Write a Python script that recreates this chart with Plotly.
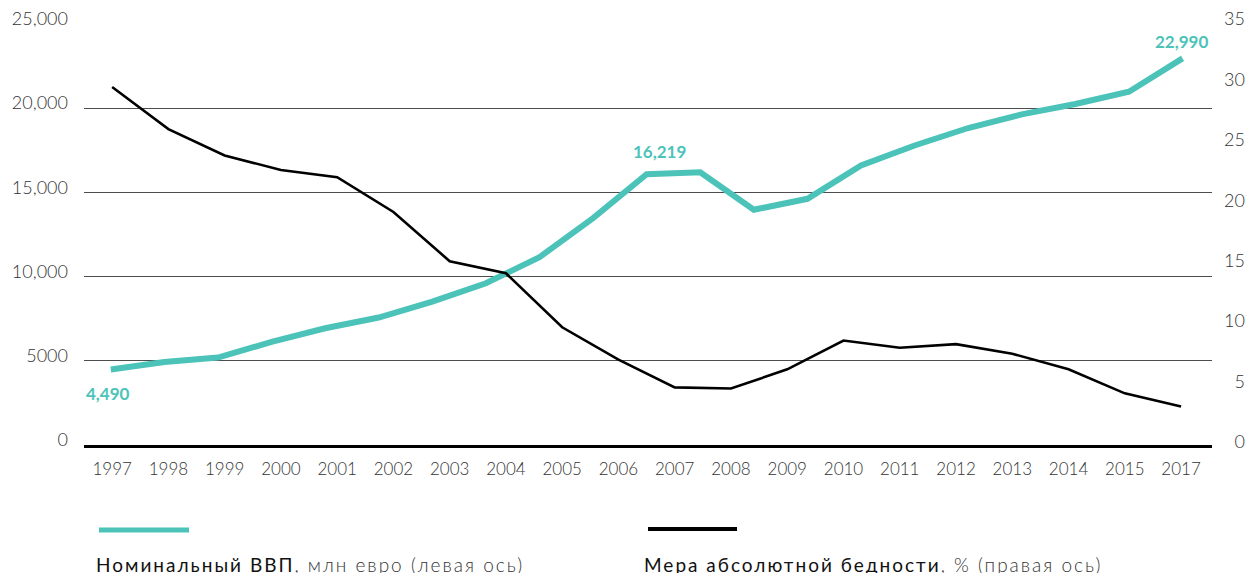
import plotly.graph_objects as go

# ---------------- data ----------------
gdp_years = list(range(1997, 2018))
gdp_values = [4490, 4940, 5200, 6130, 6940, 7580, 8530, 9620, 11170, 13490,
              16100, 16219, 13990, 14640, 16620, 17810, 18850, 19660, 20280,
              21010, 22990]

poverty_labels = ["1997", "1998", "1999", "2000", "2001", "2002", "2003", "2004",
                  "2005", "2006", "2007", "2008", "2009", "2010", "2011", "2012",
                  "2013", "2014", "2015", "2017"]
poverty_values = [29.8, 26.3, 24.1, 22.9, 22.3, 19.4, 15.3, 14.3, 9.8, 7.1,
                  4.8, 4.7, 6.3, 8.7, 8.1, 8.4, 7.6, 6.3, 4.3, 3.2]

left_ticks = [0, 5000, 10000, 15000, 20000, 25000]
left_tick_text = ["0", "5000", "10,000", "15,000", "20,000", "25,000"]
right_ticks = [0, 5, 10, 15, 20, 25, 30, 35]

gdp_name = "Номинальный ВВП"
gdp_unit = ", млн евро (левая ось)"
pov_name = "Мера абсолютной бедности"
pov_unit = ", % (правая ось)"

TEAL = "#4cc3b9"
FONT = "Lato, 'Open Sans', sans-serif"

# layout geometry (pixels)
L, T, B = 84, 10, 128
PAPER_W, PAPER_H = 1245 - L, 573 - T - B
PLOT_W, PLOT_H = 1128, 420.5

fig = go.Figure()

fig.add_trace(go.Scatter(
    x=poverty_labels, y=poverty_values, xaxis="x2", yaxis="y2",
    mode="lines", line=dict(color="#000000", width=2.6),
    hoverinfo="skip", showlegend=False))

fig.add_trace(go.Scatter(
    x=gdp_years, y=gdp_values, xaxis="x", yaxis="y",
    mode="lines", line=dict(color=TEAL, width=6),
    hoverinfo="skip", showlegend=False))

# invisible traces so the label-only axes are drawn
fig.add_trace(go.Scatter(x=[gdp_years[0]], y=[left_ticks[1]], xaxis="x", yaxis="y3",
                         mode="none", hoverinfo="skip", showlegend=False))
fig.add_trace(go.Scatter(x=[gdp_years[0]], y=[right_ticks[1]], xaxis="x", yaxis="y4",
                         mode="none", hoverinfo="skip", showlegend=False))

dom_x = PLOT_W / PAPER_W
dom_y = PLOT_H / PAPER_H
tick_font = dict(size=18, color="#333333", family=FONT, weight=300)

# label axes span the whole paper height; ranges place each label a few px above its line
lab_scale_l = PLOT_H / 25000
lab_l = [-5.5 / lab_scale_l, 25000 + (PAPER_H - PLOT_H - 5.5) / lab_scale_l]
lab_scale_r = 423 / 35
lab_r = [-3 / lab_scale_r, 35 + (PAPER_H - 423 - 3) / lab_scale_r]

fig.update_layout(
    width=1245, height=573,
    margin=dict(l=L, r=0, t=T, b=B, pad=0),
    paper_bgcolor="white", plot_bgcolor="rgba(0,0,0,0)",
    font=dict(family=FONT, color="#333333"),
    showlegend=False,
    xaxis=dict(domain=[0, dom_x], range=[1996.5, 2017.55], showticklabels=False,
               showgrid=False, zeroline=False, showline=True, linecolor="#000000",
               linewidth=3, ticks="", anchor="y", fixedrange=True),
    xaxis2=dict(type="category", categoryorder="array", categoryarray=poverty_labels,
                overlaying="x", anchor="y", side="bottom", domain=[0, dom_x],
                range=[-0.5, 19.55], showgrid=False, zeroline=False, showline=False,
                ticks="", tickfont=dict(size=17, color="#333333", family=FONT, weight=300),
                ticklabelstandoff=12, fixedrange=True),
    yaxis=dict(domain=[0, dom_y], range=[0, 25005], tickvals=left_ticks,
               showticklabels=False, showgrid=True, gridcolor="#4d4d4d", gridwidth=1,
               zeroline=False, showline=False, ticks="", fixedrange=True),
    yaxis2=dict(range=[0, 35 * 25005 / 25000], overlaying="y", anchor="x", side="right",
                showticklabels=False, showgrid=False, zeroline=False,
                showline=False, ticks="", fixedrange=True),
    yaxis3=dict(domain=[0, 1], range=lab_l, tickvals=left_ticks, ticktext=left_tick_text,
                anchor="x", side="left", showgrid=False,
                zeroline=False, showline=False, ticks="", ticklabelstandoff=15,
                tickfont=tick_font, fixedrange=True),
    yaxis4=dict(domain=[0, 1], range=lab_r, tickvals=right_ticks,
                anchor="free", position=1.0, side="left", showgrid=False,
                zeroline=False, showline=False, ticks="", automargin=False,
                tickfont=tick_font, fixedrange=True),
)

# value labels
ann = []
def add_label(text, x, y, xref, yref, color, xshift, yshift):
    ann.append(dict(text=f"<b>{text}</b>", x=x, y=y, xref=xref, yref=yref,
                    showarrow=False, xanchor="center", yanchor="middle",
                    xshift=xshift, yshift=yshift,
                    font=dict(size=17, color=color, family=FONT)))

add_label("30", poverty_labels[0], poverty_values[0], "x2", "y2", "#000000", 0, 16)
add_label("5", poverty_labels[10], poverty_values[10], "x2", "y2", "#000000", 0, 16)
add_label("3", poverty_labels[-1], poverty_values[-1], "x2", "y2", "#000000", 0, 18)
add_label(f"{gdp_values[0]:,}", gdp_years[0], gdp_values[0], "x", "y", TEAL, -3, -24)
add_label(f"{gdp_values[11]:,}", gdp_years[11], gdp_values[11], "x", "y", TEAL, -41, 21)
add_label(f"{gdp_values[-1]:,}", gdp_years[-1], gdp_values[-1], "x", "y", TEAL, -1, 17)

# legend (swatch above text)
def px_x(px):
    return (px - L) / PAPER_W
def px_y(py):
    return (573 - B - py) / PAPER_H

def legend_text(name, unit):
    return (f"<span style='font-weight:400;color:#111111;letter-spacing:2px'>{name}</span>"
            f"<span style='font-weight:300;color:#333333;letter-spacing:2px'>{unit}</span>")

ann.append(dict(text=legend_text(gdp_name, gdp_unit),
                x=px_x(94), y=px_y(564), xref="paper", yref="paper",
                xanchor="left", yanchor="middle", showarrow=False,
                font=dict(size=19, color="#333333", family=FONT)))
ann.append(dict(text=legend_text(pov_name, pov_unit),
                x=px_x(642), y=px_y(564), xref="paper", yref="paper",
                xanchor="left", yanchor="middle", showarrow=False,
                font=dict(size=19, color="#333333", family=FONT)))
fig.update_layout(annotations=ann)

fig.update_layout(shapes=[
    dict(type="line", xref="paper", yref="paper", x0=px_x(99), x1=px_x(189),
         y0=px_y(530), y1=px_y(530), line=dict(color=TEAL, width=5)),
    dict(type="line", xref="paper", yref="paper", x0=px_x(648), x1=px_x(737),
         y0=px_y(529), y1=px_y(529), line=dict(color="#000000", width=4)),
])

fig.write_html("out.html",
               config={"displayModeBar": False, "staticPlot": True},
               post_script="document.body.style.margin='0';"
                           "document.documentElement.style.overflow='hidden';")
